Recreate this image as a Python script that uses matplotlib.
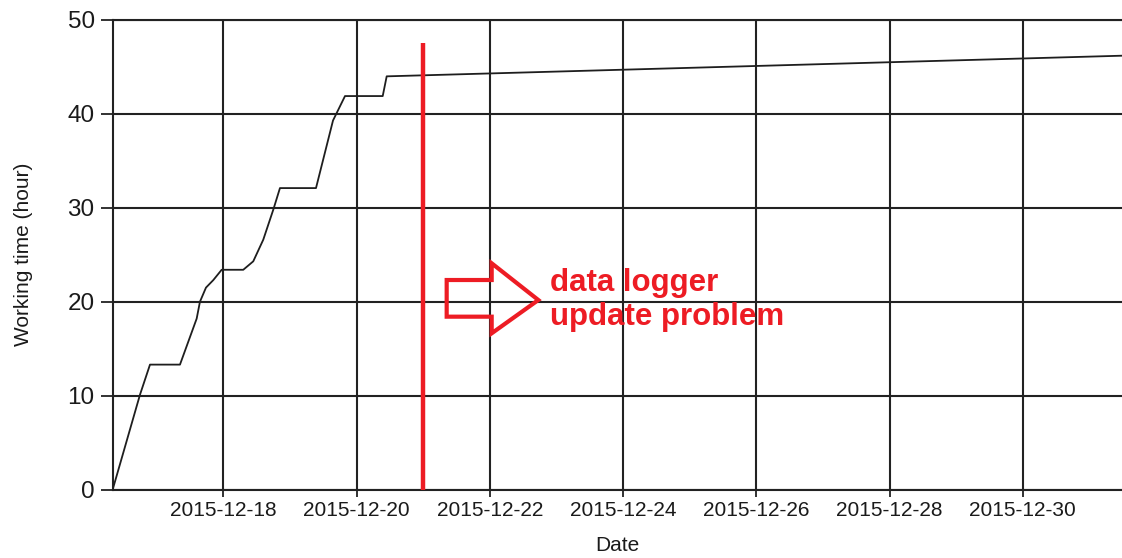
import matplotlib
matplotlib.use("Agg")
import matplotlib.pyplot as plt
import matplotlib.dates as mdates
from matplotlib.patches import Polygon
import pandas as pd

# ---- data ----
times = [
    "2015-12-16 08:10", "2015-12-16 18:00", "2015-12-16 21:36", "2015-12-17 08:24",
    "2015-12-17 14:25", "2015-12-17 15:36", "2015-12-17 17:46", "2015-12-17 20:24",
    "2015-12-17 23:25", "2015-12-18 07:12", "2015-12-18 10:48", "2015-12-18 14:24",
    "2015-12-18 18:01", "2015-12-18 20:25", "2015-12-19 09:24", "2015-12-19 15:32",
    "2015-12-19 19:51", "2015-12-20 09:26", "2015-12-20 10:52", "2015-12-31 12:00",
]
hours = [0.0, 10.1, 13.3, 13.3, 18.2, 20.0, 21.5, 22.3, 23.4, 23.4, 24.3, 26.6,
         29.8, 32.1, 32.1, 39.3, 41.9, 41.9, 44.0, 46.2]

tick_dates = ["2015-12-18", "2015-12-20", "2015-12-22", "2015-12-24",
              "2015-12-26", "2015-12-28", "2015-12-30"]
y_ticks = [0, 10, 20, 30, 40, 50]
x_range = ["2015-12-16 08:10", "2015-12-31 11:45"]
y_range = [0, 50]

marker_time = "2015-12-21 00:00"
marker_top = 47.5
note = "data logger\nupdate problem"

# ---- plot ----
plt.rcParams['font.family'] = ['Liberation Sans', 'DejaVu Sans']
fig = plt.figure(figsize=(11.22, 5.58), dpi=100)
ax = fig.add_axes([112.7 / 1122, 1 - 489.5 / 558, 1 - 112.7 / 1122, (489.5 - 20) / 558])

t = pd.to_datetime(times)
ax.plot(t, hours, color="#1e1e1e", lw=1.3, zorder=3)

ax.set_xlim(pd.to_datetime(x_range[0]), pd.to_datetime(x_range[1]))
ax.set_ylim(*y_range)
ax.set_xticks(pd.to_datetime(tick_dates))
ax.xaxis.set_major_formatter(mdates.DateFormatter("%Y-%m-%d"))
ax.set_yticks(y_ticks)

gcol = "#222222"
ax.grid(True, color=gcol, lw=1.5)
ax.set_axisbelow(True)
for s in ["top", "left", "bottom"]:
    ax.spines[s].set_color(gcol)
    ax.spines[s].set_linewidth(1.5)
ax.spines["right"].set_visible(False)

ax.tick_params(axis="y", length=8.5, width=1.3, color=gcol, labelsize=17.5,
               labelcolor="#1a1a1a", pad=4.5)
ax.tick_params(axis="x", length=5, width=1.3, color=gcol, labelsize=15,
               labelcolor="#1a1a1a", pad=3.5)

ax.set_ylabel("Working time (hour)", fontsize=15, color="#1a1a1a")
ax.yaxis.set_label_coords((33 - 112.7) / 1009.3, 0.5)
ax.set_xlabel("Date", fontsize=15, color="#1a1a1a")
ax.xaxis.set_label_coords(0.5, (489.5 - 536) / 469.5)

red = "#ed1c24"
mt = pd.to_datetime(marker_time)
ax.plot([mt, mt], [0, marker_top], color=red, lw=3.2, zorder=4, solid_capstyle="butt",
        clip_on=False)

arrow_pts = [(0.3309, 0.4462), (0.3755, 0.4462), (0.3755, 0.4818), (0.4217, 0.4036),
             (0.3755, 0.3327), (0.3755, 0.3681), (0.3309, 0.3681)]
ax.add_patch(Polygon(arrow_pts, closed=True, fill=False, edgecolor=red, lw=3,
                     joinstyle="miter", transform=ax.transAxes, zorder=4))
ax.text(0.4333, 0.4036, note, transform=ax.transAxes, color=red, fontsize=22.5,
        fontweight="bold", va="center", ha="left", zorder=5)

fig.savefig("out.png", dpi=100)
